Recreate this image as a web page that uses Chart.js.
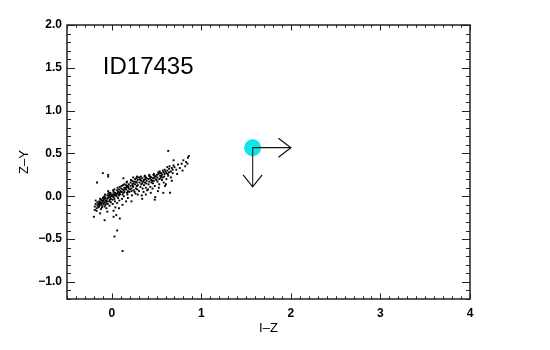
<!DOCTYPE html>
<html>
<head>
<meta charset="utf-8">
<script src="https://cdn.jsdelivr.net/npm/chart.js@4/dist/chart.umd.min.js"></script>
<style>
  html, body { margin: 0; padding: 0; background: #fff; }
  #wrap { width: 550px; height: 350px; }
</style>
</head>
<body>
<div id="wrap"><canvas id="c" width="550" height="350"></canvas></div>
<script>
// Colour-colour diagram: field objects (black) and ID17435 (cyan) with limit arrows.
const xTicks = [0, 1, 2, 3, 4];
const yTicks = [-1.0, -0.5, 0.0, 0.5, 1.0, 1.5, 2.0];
const xRange = [-0.5, 4];
const yRange = [-1.2, 2.0];
const minorStep = 0.1;

const objectName = 'ID17435';
const sourceIZ = 1.573;
const sourceZY = 0.567;
const limitIZ = 2.0;   // arrow tip, I-Z lower limit
const limitZY = 0.11;  // arrow tip, Z-Y upper limit

// [I-Z, Z-Y] of the comparison objects
const fieldPoints = [
  [-0.19,-0.12],[-0.18,-0.09],[-0.17,-0.14],[-0.16,-0.07],[-0.18,-0.05],[-0.16,-0.11],[-0.15,-0.09],[-0.17,-0.17],[-0.15,-0.13],[-0.19,-0.16],
  [-0.14,-0.06],[-0.13,-0.10],[-0.12,-0.04],[-0.14,-0.12],[-0.11,-0.08],[-0.13,-0.03],[-0.12,-0.09],[-0.10,-0.06],[-0.11,-0.13],[-0.14,-0.08],
  [-0.12,-0.15],[-0.10,-0.02],[-0.13,-0.07],[-0.11,-0.05],[-0.145,-0.10],[-0.105,-0.11],
  [-0.09,-0.04],[-0.08,-0.07],[-0.07,-0.02],[-0.09,-0.09],[-0.06,-0.05],[-0.08,0.00],[-0.07,-0.10],[-0.05,-0.03],[-0.06,-0.08],[-0.09,-0.01],
  [-0.05,0.01],[-0.08,-0.12],[-0.07,-0.05],[-0.06,-0.14],[-0.095,-0.06],[-0.055,-0.06],[-0.075,0.02],[-0.085,-0.03],
  [-0.04,-0.02],[-0.03,0.01],[-0.02,-0.04],[-0.04,0.03],[-0.01,0.00],[-0.03,-0.06],[-0.02,0.02],[-0.01,-0.03],[-0.045,-0.09],[-0.015,0.04],
  [-0.035,-0.01],[-0.005,0.02],[-0.025,-0.11],[-0.04,0.06],[-0.01,-0.07],[-0.03,0.04],[-0.02,-0.01],
  [0.01,0.02],[0.02,-0.01],[0.03,0.03],[0.01,-0.04],[0.04,0.01],[0.02,0.05],[0.03,-0.03],[0.04,0.04],[0.005,0.00],[0.015,0.07],
  [0.035,-0.06],[0.045,0.02],[0.025,0.01],[0.01,-0.09],[0.03,0.08],[0.04,-0.13],[0.02,-0.17],
  [0.06,0.03],[0.07,0.05],[0.08,0.01],[0.06,0.07],[0.09,0.04],[0.07,-0.02],[0.08,0.08],[0.09,0.02],[0.055,0.00],[0.065,0.10],
  [0.085,-0.05],[0.095,0.06],[0.075,0.03],[0.06,-0.08],[0.08,-0.14],[0.09,0.11],
  [0.11,0.05],[0.12,0.08],[0.13,0.04],[0.14,0.10],[0.11,0.12],[0.12,0.02],[0.13,0.07],[0.14,0.05],[0.105,0.09],[0.125,0.13],
  [0.135,0.00],[0.145,0.08],[0.115,-0.03],[0.13,0.21],[0.12,-0.10],[0.14,0.14],
  [0.16,0.08],[0.17,0.11],[0.18,0.06],[0.16,0.13],[0.19,0.09],[0.17,0.04],[0.18,0.12],[0.19,0.14],[0.155,0.10],[0.165,0.16],
  [0.175,0.02],[0.185,0.10],[0.195,0.05],[0.16,-0.06],[0.18,-0.02],[0.17,0.17],
  [0.21,0.12],[0.22,0.09],[0.23,0.14],[0.24,0.11],[0.21,0.16],[0.22,0.06],[0.23,0.18],[0.24,0.15],[0.205,0.08],[0.215,0.19],
  [0.225,0.01],[0.245,0.07],[0.235,0.12],[0.24,0.22],[0.22,-0.06],[0.25,0.17],
  [0.26,0.14],[0.27,0.17],[0.28,0.12],[0.29,0.19],[0.26,0.20],[0.27,0.09],[0.28,0.16],[0.29,0.13],[0.255,0.05],[0.275,0.21],
  [0.285,0.08],[0.295,0.22],[0.265,0.03],[0.28,0.23],[0.29,0.02],
  [0.31,0.16],[0.32,0.19],[0.33,0.14],[0.34,0.21],[0.31,0.22],[0.32,0.11],[0.33,0.18],[0.34,0.15],[0.305,0.06],[0.325,0.23],
  [0.345,0.09],[0.335,0.01],[0.315,0.20],[0.35,0.17],[0.34,-0.03],
  [0.36,0.19],[0.37,0.16],[0.38,0.22],[0.39,0.18],[0.36,0.13],[0.37,0.24],[0.38,0.10],[0.39,0.21],[0.355,0.05],[0.375,0.20],
  [0.385,0.15],[0.395,0.07],[0.365,0.23],[0.38,0.02],
  [0.41,0.20],[0.42,0.17],[0.43,0.23],[0.44,0.19],[0.41,0.14],[0.42,0.25],[0.43,0.11],[0.44,0.22],[0.405,0.08],[0.425,0.21],
  [0.445,0.16],[0.435,0.04],[0.415,0.24],[0.45,0.18],
  [0.46,0.21],[0.47,0.18],[0.48,0.24],[0.49,0.20],[0.46,0.15],[0.47,0.26],[0.48,0.12],[0.49,0.23],[0.455,0.09],[0.475,0.22],
  [0.485,-0.01],[0.48,-0.04],[0.465,0.25],[0.50,0.19],
  [0.51,0.22],[0.52,0.26],[0.53,0.20],[0.54,0.24],[0.51,0.17],[0.52,0.28],[0.53,0.14],[0.54,0.27],[0.505,0.25],[0.525,0.10],
  [0.545,0.21],[0.535,0.29],[0.515,0.06],[0.55,0.23],
  [0.56,0.25],[0.57,0.22],[0.58,0.28],[0.59,0.26],[0.56,0.19],[0.57,0.30],[0.58,0.16],[0.59,0.31],[0.555,0.27],[0.575,0.04],
  [0.585,0.23],[0.595,0.12],[0.60,0.29],
  [0.61,0.27],[0.62,0.30],[0.63,0.24],[0.64,0.32],[0.61,0.20],[0.62,0.34],[0.63,0.53],[0.64,0.28],[0.65,0.04],[0.605,0.14],
  [0.625,0.26],[0.645,0.35],
  [0.66,0.29],[0.67,0.33],[0.68,0.27],[0.69,0.36],[0.66,0.22],[0.68,0.31],[0.69,0.42],[0.67,0.18],[0.70,0.34],
  [0.72,0.31],[0.74,0.37],[0.73,0.26],[0.76,0.33],[0.78,0.38],[0.80,0.42],[0.79,0.30],[0.82,0.35],[0.85,0.45],[0.86,0.47],
  [0.845,0.38],[0.83,0.40],
  [-0.10,0.27],[-0.165,0.16],[-0.04,0.25],[-0.04,0.23],[-0.20,-0.24],[-0.08,-0.28],[0.06,-0.40],[0.03,-0.47],[0.12,-0.64],
  [0.09,-0.26],[0.02,-0.24],[-0.13,-0.20],[-0.05,-0.18],[0.05,-0.22]
];

const FONT = "'Liberation Sans', Arial, Helvetica, sans-serif";

// IDL-style box: inward ticks on all four sides, arrow heads, object label
const frameTicks = {
  id: 'frameTicks',
  afterDatasetsDraw(chart) {
    const { ctx, chartArea: a, scales: { x, y } } = chart;
    ctx.save();

    // arrow heads on the limit arrows
    const sx = x.getPixelForValue(sourceIZ);
    const sy = y.getPixelForValue(sourceZY);
    const tx = x.getPixelForValue(limitIZ);
    const ty = y.getPixelForValue(limitZY);
    ctx.strokeStyle = '#111';
    ctx.lineWidth = 1.2;
    ctx.beginPath();
    ctx.moveTo(tx - 12.5, sy - 9.5); ctx.lineTo(tx, sy); ctx.lineTo(tx - 12.5, sy + 9.5);
    ctx.moveTo(sx - 9.5, ty - 12); ctx.lineTo(sx, ty); ctx.lineTo(sx + 9.5, ty - 12);
    ctx.stroke();

    // label
    ctx.fillStyle = '#000';
    ctx.font = `24px ${FONT}`;
    ctx.textBaseline = 'middle';
    ctx.textAlign = 'left';
    ctx.fillText(objectName, x.getPixelForValue(-0.1), y.getPixelForValue(1.5));

    // frame
    ctx.strokeStyle = '#222';
    ctx.lineWidth = 1.5;
    ctx.strokeRect(a.left, a.top, a.right - a.left, a.bottom - a.top);

    ctx.lineWidth = 1;
    ctx.beginPath();
    const xMajor = 5.5, yMajor = 8;
    for (let i = 0; ; i++) {
      const v = +(xRange[0] + i * minorStep).toFixed(2);
      if (v > xRange[1] + 1e-9) break;
      const px = Math.round(x.getPixelForValue(v)) + 0.5;
      const len = xTicks.includes(v) ? xMajor : xMajor / 2;
      ctx.moveTo(px, a.bottom); ctx.lineTo(px, a.bottom - len);
      ctx.moveTo(px, a.top); ctx.lineTo(px, a.top + len);
    }
    for (let i = 0; ; i++) {
      const v = +(yRange[0] + i * minorStep).toFixed(2);
      if (v > yRange[1] + 1e-9) break;
      const py = Math.round(y.getPixelForValue(v)) + 0.5;
      const len = yTicks.includes(v) ? yMajor : yMajor / 2;
      ctx.moveTo(a.left, py); ctx.lineTo(a.left + len, py);
      ctx.moveTo(a.right, py); ctx.lineTo(a.right - len, py);
    }
    ctx.stroke();
    ctx.restore();
  },
};

const fmtY = (v) => (v < 0 ? '\u2212' : '') + Math.abs(v).toFixed(1);

new Chart(document.getElementById('c'), {
  type: 'scatter',
  data: {
    datasets: [
      {
        label: 'limit I-Z',
        data: [{ x: sourceIZ, y: sourceZY }, { x: limitIZ, y: sourceZY }],
        showLine: true,
        borderColor: '#111',
        borderWidth: 1.2,
        pointRadius: 0,
        order: 0,
      },
      {
        label: 'limit Z-Y',
        data: [{ x: sourceIZ, y: sourceZY }, { x: sourceIZ, y: limitZY }],
        showLine: true,
        borderColor: '#333',
        borderWidth: 1.2,
        pointRadius: 0,
        order: 0,
      },
      {
        label: objectName,
        data: [{ x: sourceIZ, y: sourceZY }],
        backgroundColor: '#0ae8ea',
        borderWidth: 0,
        pointRadius: 8.5,
        order: 1,
      },
      {
        label: 'field',
        data: fieldPoints.map(([x, y]) => ({ x, y })),
        backgroundColor: '#000',
        borderWidth: 0,
        pointStyle: 'rect',
        pointRadius: 1.35,
        order: 2,
      },
    ],
  },
  options: {
    responsive: false,
    animation: false,
    events: [],
    layout: { padding: { left: 0, top: 25, right: 80, bottom: 0 } },
    plugins: { legend: { display: false }, tooltip: { enabled: false } },
    scales: {
      x: {
        type: 'linear',
        min: xRange[0],
        max: xRange[1],
        afterBuildTicks: (s) => { s.ticks = xTicks.map((v) => ({ value: v })); },
        afterFit: (s) => { s.height = 51; },
        grid: { display: false, drawTicks: false },
        border: { display: false },
        ticks: {
          padding: 7,
          color: '#000',
          font: { family: FONT, size: 12, weight: 'bold' },
          callback: (v) => String(v),
        },
        title: {
          display: true,
          text: 'I\u2013Z',
          color: '#000',
          font: { family: FONT, size: 13 },
          padding: { top: 0, bottom: 14 },
        },
      },
      y: {
        type: 'linear',
        min: yRange[0],
        max: yRange[1],
        afterBuildTicks: (s) => { s.ticks = yTicks.map((v) => ({ value: v })); },
        afterFit: (s) => { s.width = 67; },
        grid: { display: false, drawTicks: false },
        border: { display: false },
        ticks: {
          padding: 5,
          color: '#000',
          font: { family: FONT, size: 12, weight: 'bold' },
          callback: (v) => fmtY(v),
        },
        title: {
          display: true,
          text: 'Z\u2013Y',
          color: '#000',
          font: { family: FONT, size: 13 },
          padding: { top: 17, bottom: 0 },
        },
      },
    },
  },
  plugins: [frameTicks],
});
</script>
</body>
</html>
